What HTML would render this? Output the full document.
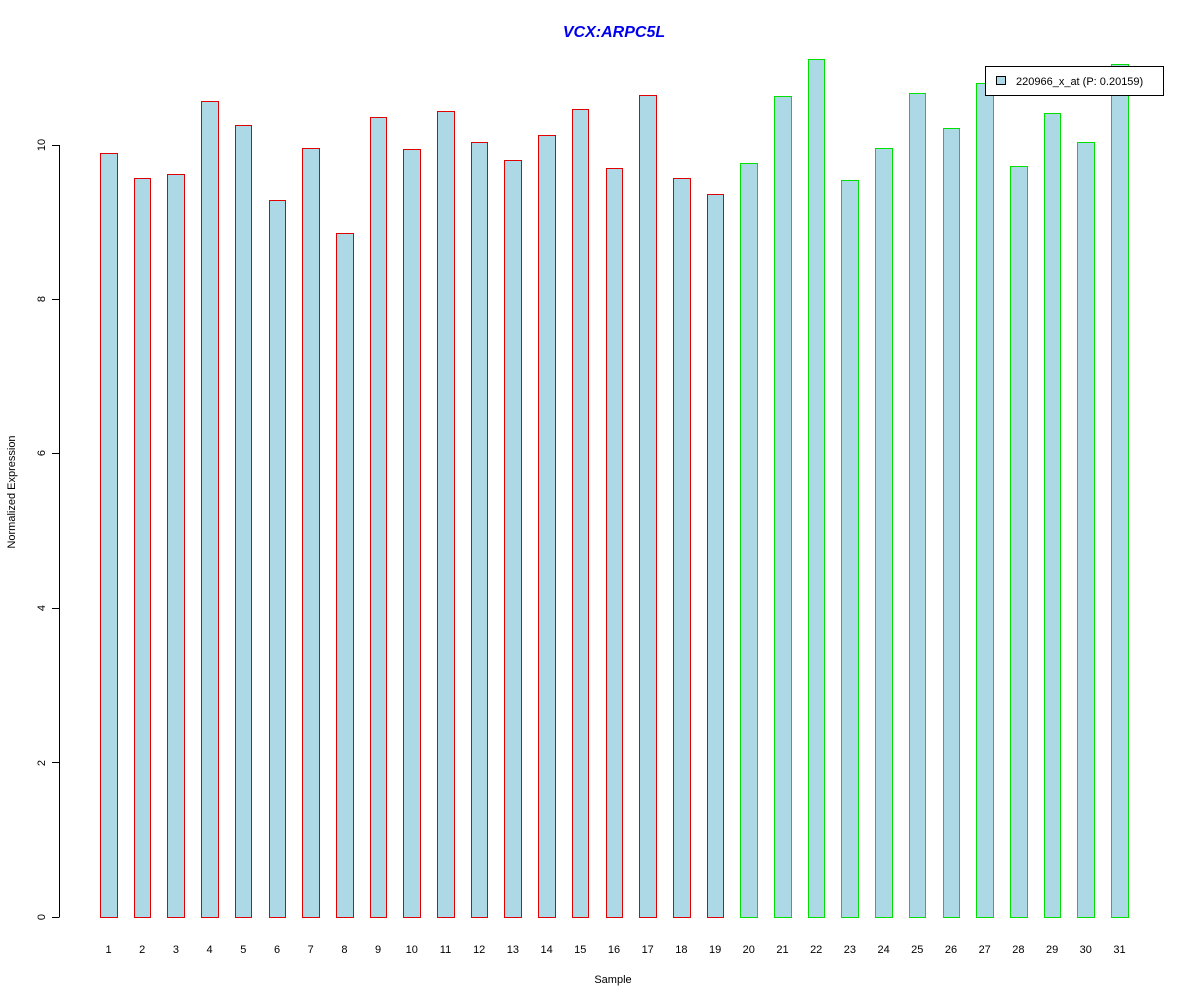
<!DOCTYPE html>
<html><head><style>body{margin:0;background:#fff}svg{display:block}text{font-family:"Liberation Sans",Arial,sans-serif}</style></head>
<body>
<svg width="1200" height="1000" xmlns="http://www.w3.org/2000/svg" shape-rendering="crispEdges">
<rect width="1200" height="1000" fill="#fff"/>
<text x="614" y="37" text-anchor="middle" font-size="16" font-weight="bold" font-style="italic" fill="#0000ee">VCX:ARPC5L</text>
<g stroke="#000" stroke-width="1">
<line x1="59.5" y1="145" x2="59.5" y2="917"/>
<line x1="52" y1="917.5" x2="59.5" y2="917.5"/>
<line x1="52" y1="762.5" x2="59.5" y2="762.5"/>
<line x1="52" y1="608.5" x2="59.5" y2="608.5"/>
<line x1="52" y1="453.5" x2="59.5" y2="453.5"/>
<line x1="52" y1="299.5" x2="59.5" y2="299.5"/>
<line x1="52" y1="145.5" x2="59.5" y2="145.5"/>
</g>
<g font-size="11" fill="#000" text-anchor="middle">
<text transform="translate(45,917) rotate(-90)">0</text>
<text transform="translate(45,763) rotate(-90)">2</text>
<text transform="translate(45,608) rotate(-90)">4</text>
<text transform="translate(45,453) rotate(-90)">6</text>
<text transform="translate(45,299) rotate(-90)">8</text>
<text transform="translate(45,145) rotate(-90)">10</text>
<text transform="translate(15,492) rotate(-90)">Normalized Expression</text>
<text x="613" y="983">Sample</text>
</g>
<g fill="#add8e6" stroke="#e00000" stroke-width="1">
<rect x="100.5" y="153.5" width="17" height="764"/>
<rect x="134.5" y="178.5" width="16" height="739"/>
<rect x="167.5" y="174.5" width="17" height="743"/>
<rect x="201.5" y="101.5" width="17" height="816"/>
<rect x="235.5" y="125.5" width="16" height="792"/>
<rect x="269.5" y="200.5" width="16" height="717"/>
<rect x="302.5" y="148.5" width="17" height="769"/>
<rect x="336.5" y="233.5" width="17" height="684"/>
<rect x="370.5" y="117.5" width="16" height="800"/>
<rect x="403.5" y="149.5" width="17" height="768"/>
<rect x="437.5" y="111.5" width="17" height="806"/>
<rect x="471.5" y="142.5" width="16" height="775"/>
<rect x="504.5" y="160.5" width="17" height="757"/>
<rect x="538.5" y="135.5" width="17" height="782"/>
<rect x="572.5" y="109.5" width="16" height="808"/>
<rect x="606.5" y="168.5" width="16" height="749"/>
<rect x="639.5" y="95.5" width="17" height="822"/>
<rect x="673.5" y="178.5" width="17" height="739"/>
<rect x="707.5" y="194.5" width="16" height="723"/>
</g>
<g fill="#add8e6" stroke="#00e000" stroke-width="1">
<rect x="740.5" y="163.5" width="17" height="754"/>
<rect x="774.5" y="96.5" width="17" height="821"/>
<rect x="808.5" y="59.5" width="16" height="858"/>
<rect x="841.5" y="180.5" width="17" height="737"/>
<rect x="875.5" y="148.5" width="17" height="769"/>
<rect x="909.5" y="93.5" width="16" height="824"/>
<rect x="943.5" y="128.5" width="16" height="789"/>
<rect x="976.5" y="83.5" width="17" height="834"/>
<rect x="1010.5" y="166.5" width="17" height="751"/>
<rect x="1044.5" y="113.5" width="16" height="804"/>
<rect x="1077.5" y="142.5" width="17" height="775"/>
<rect x="1111.5" y="64.5" width="17" height="853"/>
</g>
<rect x="985.5" y="66.5" width="178" height="29" fill="#fff" stroke="#000"/>
<rect x="996.5" y="76.5" width="9" height="8" fill="#add8e6" stroke="#000"/>
<text x="1016" y="85" font-size="11">220966_x_at (P: 0.20159)</text>
<g font-size="11" text-anchor="middle">
<text x="108.5" y="953">1</text><text x="142.2" y="953">2</text><text x="175.9" y="953">3</text><text x="209.6" y="953">4</text><text x="243.3" y="953">5</text><text x="277" y="953">6</text><text x="310.7" y="953">7</text><text x="344.4" y="953">8</text><text x="378.1" y="953">9</text><text x="411.8" y="953">10</text><text x="445.5" y="953">11</text><text x="479.2" y="953">12</text><text x="512.9" y="953">13</text><text x="546.6" y="953">14</text><text x="580.3" y="953">15</text><text x="614" y="953">16</text><text x="647.7" y="953">17</text><text x="681.4" y="953">18</text><text x="715.1" y="953">19</text><text x="748.8" y="953">20</text><text x="782.5" y="953">21</text><text x="816.2" y="953">22</text><text x="849.9" y="953">23</text><text x="883.6" y="953">24</text><text x="917.3" y="953">25</text><text x="951" y="953">26</text><text x="984.7" y="953">27</text><text x="1018.4" y="953">28</text><text x="1052.1" y="953">29</text><text x="1085.8" y="953">30</text><text x="1119.5" y="953">31</text>
</g>
</svg>
</body></html>
